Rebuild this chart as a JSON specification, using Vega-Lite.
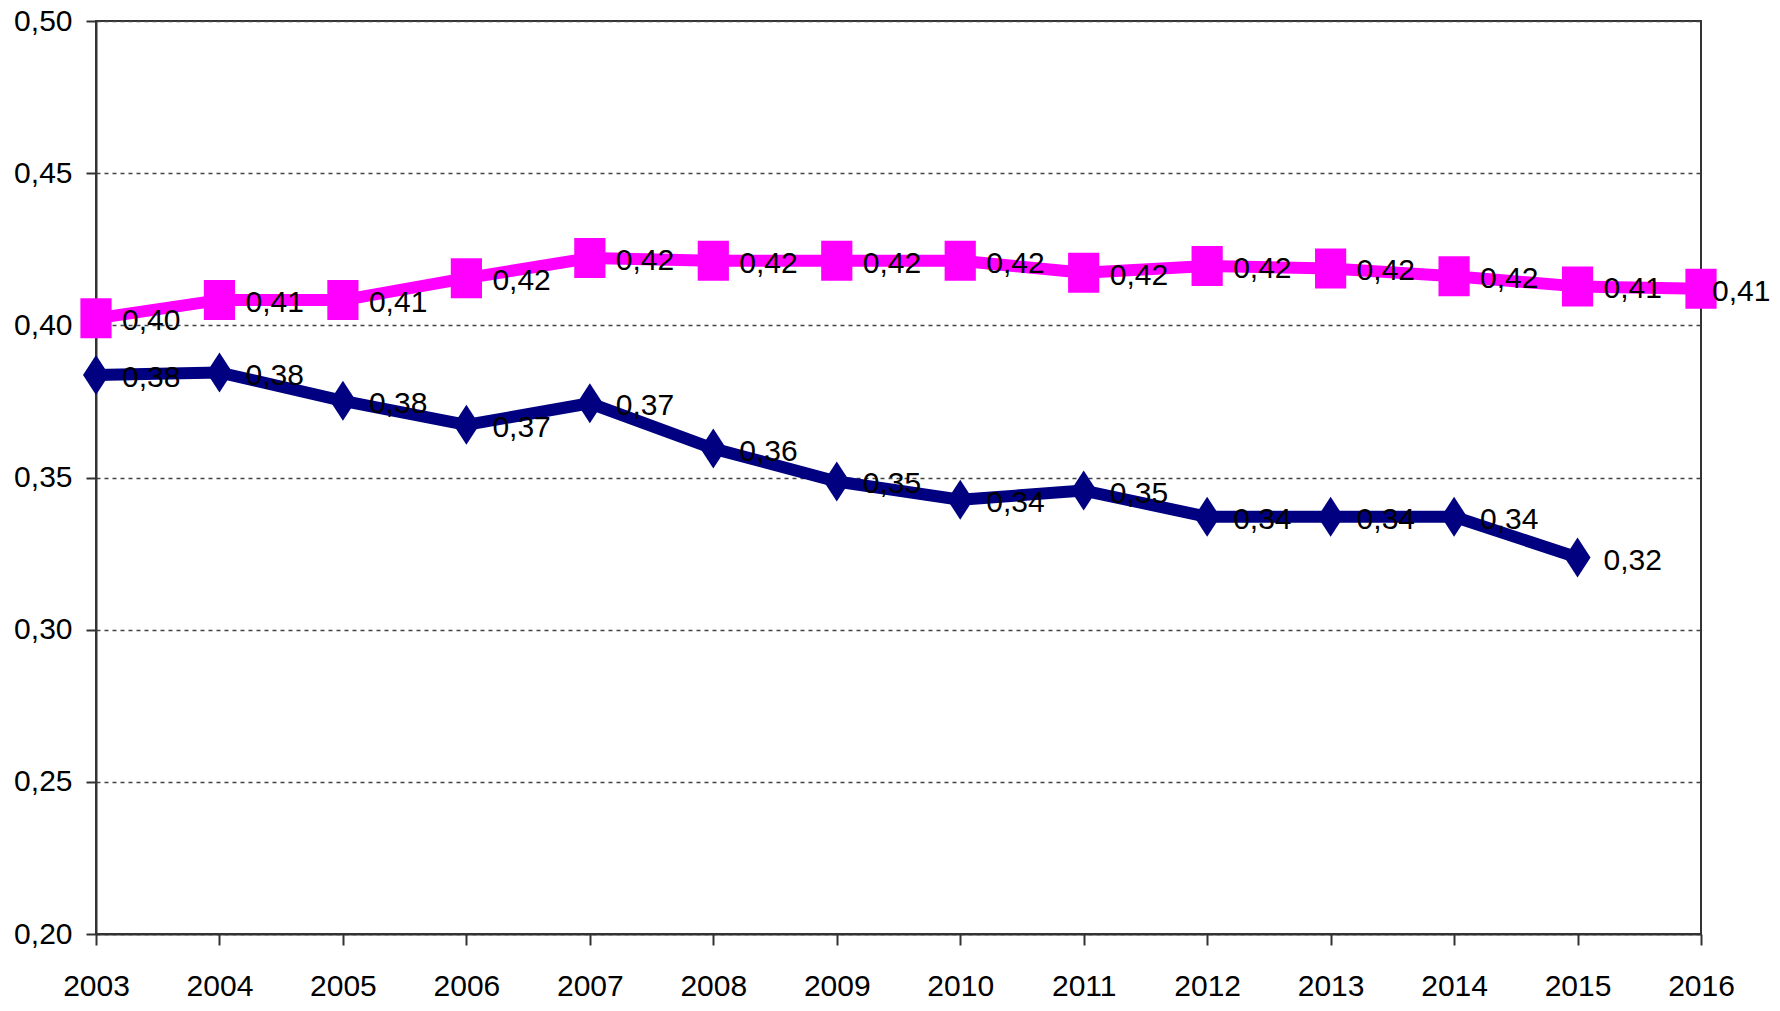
{
  "$schema": "https://vega.github.io/schema/vega-lite/v6.json",
  "width": 1605,
  "height": 913,
  "autosize": "none",
  "padding": {"left": 96, "top": 21, "right": 79, "bottom": 77},
  "background": "white",
  "config": {
    "locale": {"number": {"decimal": ",", "thousands": ".", "grouping": [3], "currency": ["", " €"]}},
    "view": {"stroke": "#333333", "strokeWidth": 2},
    "font": "Liberation Sans"
  },
  "data": {
    "values": [
      {"year": 2003, "series": "A", "value": 0.4023},
      {"year": 2004, "series": "A", "value": 0.4083},
      {"year": 2005, "series": "A", "value": 0.4083},
      {"year": 2006, "series": "A", "value": 0.4155},
      {"year": 2007, "series": "A", "value": 0.4221},
      {"year": 2008, "series": "A", "value": 0.4212},
      {"year": 2009, "series": "A", "value": 0.4212},
      {"year": 2010, "series": "A", "value": 0.4212},
      {"year": 2011, "series": "A", "value": 0.4173},
      {"year": 2012, "series": "A", "value": 0.4195},
      {"year": 2013, "series": "A", "value": 0.4187},
      {"year": 2014, "series": "A", "value": 0.4161},
      {"year": 2015, "series": "A", "value": 0.4128},
      {"year": 2016, "series": "A", "value": 0.4120},
      {"year": 2003, "series": "B", "value": 0.3837},
      {"year": 2004, "series": "B", "value": 0.3845},
      {"year": 2005, "series": "B", "value": 0.3752},
      {"year": 2006, "series": "B", "value": 0.3673},
      {"year": 2007, "series": "B", "value": 0.3744},
      {"year": 2008, "series": "B", "value": 0.3595},
      {"year": 2009, "series": "B", "value": 0.3487},
      {"year": 2010, "series": "B", "value": 0.3427},
      {"year": 2011, "series": "B", "value": 0.3457},
      {"year": 2012, "series": "B", "value": 0.3371},
      {"year": 2013, "series": "B", "value": 0.3371},
      {"year": 2014, "series": "B", "value": 0.3371},
      {"year": 2015, "series": "B", "value": 0.3237}
    ]
  },
  "encoding": {
    "x": {
      "field": "year", "type": "quantitative",
      "scale": {"domain": [2003, 2016], "nice": false, "zero": false},
      "axis": {
        "title": null, "format": "d", "values": [2003,2004,2005,2006,2007,2008,2009,2010,2011,2012,2013,2014,2015,2016],
        "grid": false, "domainColor": "#333333", "domainWidth": 2,
        "tickColor": "#333333", "tickWidth": 2, "tickSize": 11,
        "labelFont": "Liberation Sans", "labelFontSize": 30, "labelColor": "#000000",
        "labelPadding": 26, "labelFlush": false
      }
    },
    "y": {
      "field": "value", "type": "quantitative",
      "scale": {"domain": [0.2, 0.5], "nice": false, "zero": false},
      "axis": {
        "title": null, "format": ".2f", "values": [0.2,0.25,0.3,0.35,0.4,0.45,0.5],
        "grid": true, "gridColor": "#444444", "gridDash": [4, 4], "gridWidth": 1.5,
        "domainColor": "#333333", "domainWidth": 2,
        "tickColor": "#333333", "tickWidth": 2, "tickSize": 10,
        "labelFont": "Liberation Sans", "labelFontSize": 30, "labelColor": "#000000",
        "labelPadding": 14
      }
    },
    "color": {
      "field": "series", "type": "nominal",
      "scale": {"domain": ["A", "B"], "range": ["#ff00ff", "#000080"]},
      "legend": null
    }
  },
  "layer": [
    {
      "mark": {"type": "line", "strokeWidth": 12, "strokeJoin": "round"},
      "encoding": {"detail": {"field": "series"}}
    },
    {
      "mark": {"type": "point", "filled": true, "opacity": 1, "size": 1600},
      "encoding": {
        "shape": {
          "field": "series", "type": "nominal",
          "scale": {"domain": ["A", "B"], "range": ["M-0.78,-1L0.78,-1L0.78,1L-0.78,1Z", "M0,-1L0.65,0L0,1L-0.65,0Z"]},
          "legend": null
        }
      }
    },
    {
      "transform": [{"filter": "datum.year < 2016"}],
      "mark": {"type": "text", "align": "left", "baseline": "middle", "dx": 26, "dy": 3, "fontSize": 30, "font": "Liberation Sans", "color": "#000000", "clip": false},
      "encoding": {
        "text": {"field": "value", "type": "quantitative", "format": ".2f"},
        "color": {"value": "#000000"}
      }
    },
    {
      "transform": [{"filter": "datum.year == 2016"}],
      "mark": {"type": "text", "align": "left", "baseline": "middle", "dx": 11, "dy": 3, "fontSize": 30, "font": "Liberation Sans", "color": "#000000", "clip": false},
      "encoding": {
        "text": {"field": "value", "type": "quantitative", "format": ".2f"},
        "color": {"value": "#000000"}
      }
    }
  ]
}
